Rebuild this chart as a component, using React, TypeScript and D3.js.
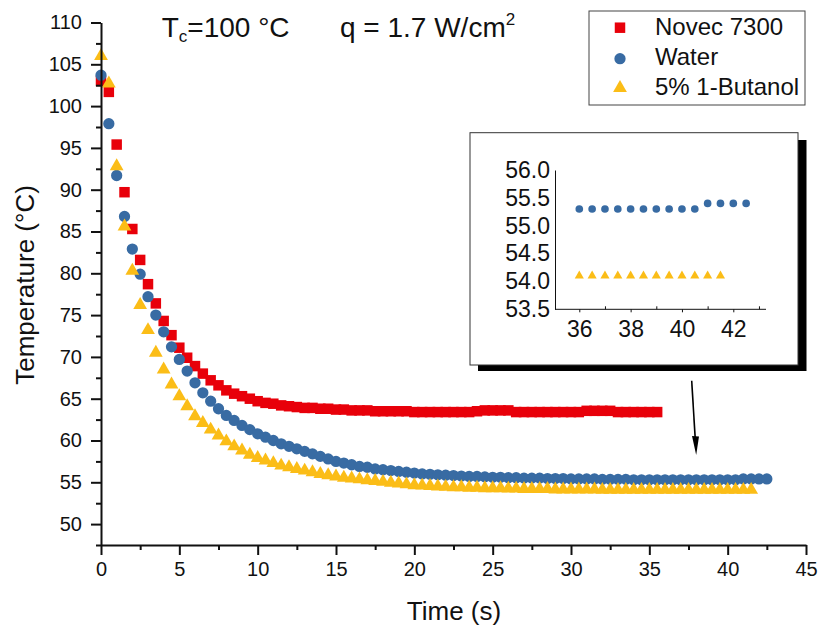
import React, { useEffect, useRef } from "react";
import * as d3 from "d3";

const times = [
  0, 0.5, 1, 1.5, 2, 2.5, 3, 3.5, 4, 4.5, 5, 5.5, 6, 6.5, 7, 7.5, 8, 8.5, 9, 9.5,
  10, 10.5, 11, 11.5, 12, 12.5, 13, 13.5, 14, 14.5, 15, 15.5, 16, 16.5, 17, 17.5, 18, 18.5, 19, 19.5,
  20, 20.5, 21, 21.5, 22, 22.5, 23, 23.5, 24, 24.5, 25, 25.5, 26, 26.5, 27, 27.5, 28, 28.5, 29, 29.5,
  30, 30.5, 31, 31.5, 32, 32.5, 33, 33.5, 34, 34.5, 35, 35.5, 36, 36.5, 37, 37.5, 38, 38.5, 39, 39.5,
  40, 40.5, 41, 41.5, 42, 42.5,
];

const novec = [
  103.0, 101.7, 95.4, 89.7, 85.3, 81.6, 78.7, 76.4, 74.3, 72.6,
  71.1, 69.9, 68.9, 68.0, 67.2, 66.6, 66.0, 65.6, 65.3, 65.0,
  64.7, 64.5, 64.4, 64.2, 64.1, 64.0, 63.9, 63.9, 63.8, 63.8,
  63.7, 63.7, 63.6, 63.6, 63.6, 63.5, 63.5, 63.5, 63.5, 63.5,
  63.4, 63.4, 63.4, 63.4, 63.4, 63.4, 63.4, 63.4, 63.5, 63.6,
  63.6, 63.6, 63.6, 63.4, 63.4, 63.4, 63.4, 63.4, 63.4, 63.4,
  63.4, 63.4, 63.55, 63.55, 63.55, 63.55, 63.4, 63.4, 63.4, 63.4,
  63.4, 63.4,
];

const water = [
  103.7, 97.9, 91.7, 86.8, 82.9, 79.9, 77.2, 75.0, 73.0, 71.2,
  69.7, 68.3, 66.9, 65.7, 64.7, 63.8, 63.0, 62.4, 61.8, 61.3,
  60.8, 60.4, 60.0, 59.6, 59.3, 59.0, 58.7, 58.4, 58.1, 57.8,
  57.5, 57.3, 57.1, 56.9, 56.8, 56.6, 56.5, 56.4, 56.3, 56.2,
  56.1, 56.0, 55.95, 55.9, 55.85, 55.8, 55.75, 55.7, 55.7, 55.65,
  55.6, 55.6, 55.55, 55.55, 55.5, 55.5, 55.5, 55.45, 55.45, 55.45,
  55.4, 55.4, 55.4, 55.4, 55.35, 55.35, 55.35, 55.35, 55.3, 55.3,
  55.3, 55.3, 55.3, 55.3, 55.3, 55.3, 55.3, 55.3, 55.3, 55.3,
  55.3, 55.3, 55.4, 55.4, 55.4, 55.4,
];

const butanol = [
  106.0, 102.7, 92.8, 85.6, 80.3, 76.2, 73.2, 70.5, 68.5, 66.7,
  65.3, 64.1, 62.9, 62.1, 61.3, 60.6, 59.9, 59.3, 58.8, 58.3,
  57.9, 57.6, 57.3, 57.0, 56.8, 56.6, 56.4, 56.2, 56.0, 55.85,
  55.7, 55.55, 55.45, 55.35, 55.25, 55.15, 55.05, 54.95, 54.85, 54.75,
  54.65, 54.6, 54.55, 54.5, 54.45, 54.4, 54.4, 54.35, 54.35, 54.3,
  54.3, 54.3, 54.25, 54.25, 54.2, 54.2, 54.2, 54.2, 54.15, 54.15,
  54.15, 54.15, 54.15, 54.15, 54.1, 54.1, 54.1, 54.1, 54.1, 54.1,
  54.1, 54.1, 54.1, 54.1, 54.1, 54.1, 54.1, 54.1, 54.1, 54.1,
  54.1, 54.1, 54.1, 54.1,
];

const seriesNames = ["Novec 7300", "Water", "5% 1-Butanol"];
const xTicks = [0, 5, 10, 15, 20, 25, 30, 35, 40, 45];
const xMinor = [2.5, 7.5, 12.5, 17.5, 22.5, 27.5, 32.5, 37.5, 42.5];
const yTicks = [50, 55, 60, 65, 70, 75, 80, 85, 90, 95, 100, 105, 110];
const yMinor = [47.5, 52.5, 57.5, 62.5, 67.5, 72.5, 77.5, 82.5, 87.5, 92.5, 97.5, 102.5, 107.5];
const insetXTicks = [36, 38, 40, 42];
const insetXMinor = [37, 39, 41, 43];
const insetYTicks = [53.5, 54.0, 54.5, 55.0, 55.5, 56.0];

const RED = "#e8000a";
const BLUE = "#386ba3";
const YELLOW = "#fbbd17";
const FONT = "Arial, 'Liberation Sans', sans-serif";

const x = d3.scaleLinear().domain([0, 45]).range([101, 806]);
const y = d3.scaleLinear().domain([47.5, 110]).range([545, 22.5]);
const ix = d3.scaleLinear().domain([36, 42]).range([579.3, 733.3]);
const iy = d3.scaleLinear().domain([53.5, 56]).range([309.3, 170]);

const sq = d3.symbol().type(d3.symbolSquare).size(110)() as string;
const ci = d3.symbol().type(d3.symbolCircle).size(100)() as string;
const tr = d3.symbol().type(d3.symbolTriangle).size(82)() as string;
const ciS = d3.symbol().type(d3.symbolCircle).size(46)() as string;
const trS = d3.symbol().type(d3.symbolTriangle).size(36)() as string;

export default function App() {
  const axRef = useRef<SVGGElement>(null);

  useEffect(() => {
    const g = d3.select(axRef.current);
    g.selectAll("*").remove();
    const styleAxis = (sel: any, fs: number, sw: number) => {
      sel.selectAll("text").attr("font-size", fs).attr("font-family", FONT).attr("fill", "#111");
      sel.selectAll("line").attr("stroke", "#111").attr("stroke-width", sw);
      sel.selectAll("path.domain").attr("stroke", "#111").attr("stroke-width", sw);
    };
    const xm = g.append("g").attr("transform", "translate(0,545)")
      .call(d3.axisBottom(x).tickValues(xMinor).tickSize(5).tickFormat(() => "").tickSizeOuter(0));
    xm.select("path.domain").remove();
    styleAxis(xm, 20, 2);
    const ym = g.append("g").attr("transform", "translate(101,0)")
      .call(d3.axisLeft(y).tickValues(yMinor).tickSize(5).tickFormat(() => "").tickSizeOuter(0));
    ym.select("path.domain").remove();
    styleAxis(ym, 20, 2);
    const xa = g.append("g").attr("transform", "translate(0,545)")
      .call(d3.axisBottom(x).tickValues(xTicks).tickSize(10).tickPadding(7).tickSizeOuter(0).tickFormat(d3.format("d")));
    styleAxis(xa, 20, 2);
    const ya = g.append("g").attr("transform", "translate(101,0)")
      .call(d3.axisLeft(y).tickValues(yTicks).tickSize(10).tickPadding(9).tickSizeOuter(0).tickFormat(d3.format("d")));
    styleAxis(ya, 20, 2);

    const ig = g.append("g").attr("class", "inset");
    const ixm = ig.append("g").attr("transform", "translate(0,309.3)")
      .call(d3.axisTop(ix).tickValues(insetXMinor).tickSize(3).tickFormat(() => "").tickSizeOuter(0));
    ixm.select("path.domain").remove();
    styleAxis(ixm, 23, 1);
    const ixa = ig.append("g").attr("transform", "translate(0,309.3)")
      .call(d3.axisBottom(ix).tickValues(insetXTicks).tickSize(3).tickPadding(8).tickSizeOuter(0).tickFormat(d3.format("d")));
    ixa.select("path.domain").attr("d", "M555,0H766");
    styleAxis(ixa, 23, 1);
    const iya = ig.append("g").attr("transform", "translate(555,0)")
      .call(d3.axisLeft(iy).tickValues(insetYTicks).tickSize(0).tickPadding(5).tickSizeOuter(0).tickFormat(d3.format(".1f")));
    styleAxis(iya, 23, 1);
  }, []);

  const novecPts = novec.map((v, i) => ({ t: times[i], v }));
  const waterPts = water.map((v, i) => ({ t: times[i], v }));
  const butPts = butanol.map((v, i) => ({ t: times[i], v }));

  return (
    <svg width={823} height={628} style={{ position: "absolute", left: 0, top: 0, background: "#fff" }}>
      <rect x={0} y={0} width={823} height={628} fill="#fff" />
      <g>
        {novecPts.map((p, i) => (
          <path key={"n" + i} d={sq} transform={`translate(${x(p.t)},${y(p.v)})`} fill={RED} />
        ))}
        {waterPts.map((p, i) => (
          <path key={"w" + i} d={ci} transform={`translate(${x(p.t)},${y(p.v)})`} fill={BLUE} />
        ))}
        {butPts.map((p, i) => (
          <path key={"b" + i} d={tr} transform={`translate(${x(p.t)},${y(p.v)})`} fill={YELLOW} />
        ))}
      </g>

      <line x1={691.7} y1={380.7} x2={695.3} y2={440} stroke="#000" strokeWidth={1.6} />
      <path d="M692,436 L699,436.5 L696.2,455 Z" fill="#000" />

      <rect x={478} y={140} width={328.5} height={231} fill="#000" />
      <rect x={470} y={132.7} width={328} height={232.3} fill="#fff" stroke="#333" strokeWidth={1} />
      <g>
        {waterPts.filter((p) => p.t >= 36).map((p, i) => (
          <path key={"iw" + i} d={ciS} transform={`translate(${ix(p.t)},${iy(p.v)})`} fill={BLUE} />
        ))}
        {butPts.filter((p) => p.t >= 36).map((p, i) => (
          <path key={"ib" + i} d={trS} transform={`translate(${ix(p.t)},${iy(p.v)})`} fill={YELLOW} />
        ))}
      </g>

      <g ref={axRef} />

      <text x={454} y={620} textAnchor="middle" fontFamily={FONT} fontSize={26} fill="#111">Time (s)</text>
      <text transform="translate(34,285) rotate(-90)" textAnchor="middle" fontFamily={FONT} fontSize={26} fill="#111">
        Temperature (°C)
      </text>

      <text x={161.7} y={36.7} fontFamily={FONT} fontSize={28} fill="#111">
        T<tspan fontSize={17} dy={5}>c</tspan><tspan dy={-5}>=100 °C</tspan>
      </text>
      <text x={340} y={36.7} fontFamily={FONT} fontSize={28} fill="#111">
        q = 1.7 W/cm<tspan fontSize={17} dy={-12}>2</tspan>
      </text>

      <rect x={589} y={11} width={216} height={94} fill="#fff" stroke="#444" strokeWidth={1} />
      <path d={sq} transform="translate(620,27.7)" fill={RED} />
      <path d={ci} transform="translate(620,58.7)" fill={BLUE} />
      <path d={tr} transform="translate(620,88)" fill={YELLOW} />
      <text x={655} y={35} fontFamily={FONT} fontSize={24} fill="#111">{seriesNames[0]}</text>
      <text x={655} y={65} fontFamily={FONT} fontSize={24} fill="#111">{seriesNames[1]}</text>
      <text x={655} y={95} fontFamily={FONT} fontSize={24} fill="#111">{seriesNames[2]}</text>
    </svg>
  );
}
